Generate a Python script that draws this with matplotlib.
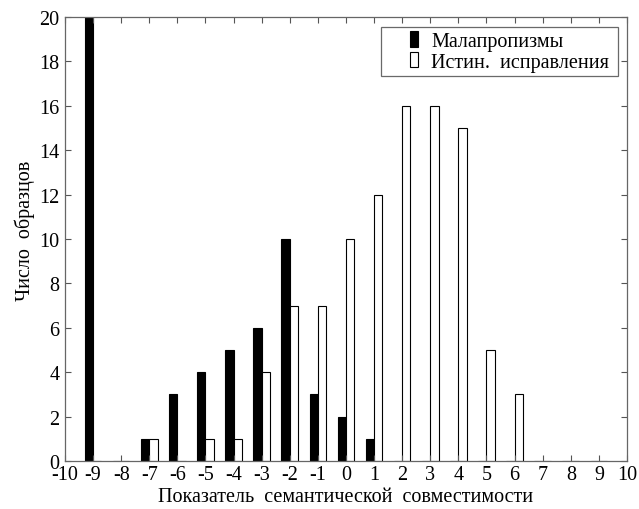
import matplotlib
matplotlib.use("Agg")
import matplotlib.pyplot as plt
from matplotlib.patches import Rectangle
from matplotlib.legend_handler import HandlerPatch
from matplotlib.container import BarContainer

plt.rcParams['font.family'] = ['Liberation Serif', 'DejaVu Serif']
plt.rcParams['axes.unicode_minus'] = False

scores = [-9, -8, -7, -6, -5, -4, -3, -2, -1, 0, 1, 2, 3, 4, 5, 6, 7, 8, 9]
malaprop = [20, 0, 1, 3, 4, 5, 6, 10, 3, 2, 1, 0, 0, 0, 0, 0, 0, 0, 0]
true_corr = [0, 0, 1, 0, 1, 1, 4, 7, 7, 10, 12, 16, 16, 15, 5, 3, 0, 0, 0]
xticks = list(range(-10, 11))
yticks = list(range(0, 21, 2))

FS = 14.5

fig = plt.figure(figsize=(6.39, 5.10), dpi=100)
ax = fig.add_axes([0.1017, 0.094, 0.8795, 0.871])

w = 0.295
ax.bar([s - w / 2 for s in scores], malaprop, width=w, color='black',
       edgecolor='black', linewidth=0.8, label='Малапропизмы')
ax.bar([s + w / 2 for s in scores], true_corr, width=w, color='white',
       edgecolor='black', linewidth=0.8, label='Истин.  исправления ')

ax.set_xlim(-10, 10)
ax.set_ylim(0, 20)
ax.set_xticks(xticks)
ax.set_yticks(yticks)
ax.tick_params(direction='in', top=True, right=True, labelsize=FS, length=4,
               color='#555555')
ax.tick_params(axis='y', pad=4)
ax.tick_params(axis='x', pad=3)
for sp in ax.spines.values():
    sp.set_color('#666666')
    sp.set_linewidth(0.9)

ax.set_xlabel('Показатель  семантической  совместимости', fontsize=FS, labelpad=2)
ax.set_ylabel('Число  образцов', fontsize=FS)
ax.yaxis.set_label_coords(-0.053, 0.52)


def narrow_patch(legend, orig_handle, xdescent, ydescent, width, height, fontsize):
    pw = 5.8
    return Rectangle((-xdescent + width - pw, -ydescent), pw, height)


def update_from_bar(legend_handle, orig_handle):
    legend_handle.update_from(orig_handle.patches[0])


leg = ax.legend(loc='upper right', fontsize=FS, frameon=True, fancybox=False,
                handlelength=1.65, handleheight=0.8, handletextpad=0.65,
                borderpad=0.2, labelspacing=0.05, borderaxespad=0,
                bbox_to_anchor=(0.984, 0.977),
                handler_map={BarContainer: HandlerPatch(patch_func=narrow_patch,
                                                        update_func=update_from_bar)})
leg.get_frame().set_edgecolor('#444444')
leg.get_frame().set_linewidth(0.9)

fig.savefig('out.png', dpi=100)
